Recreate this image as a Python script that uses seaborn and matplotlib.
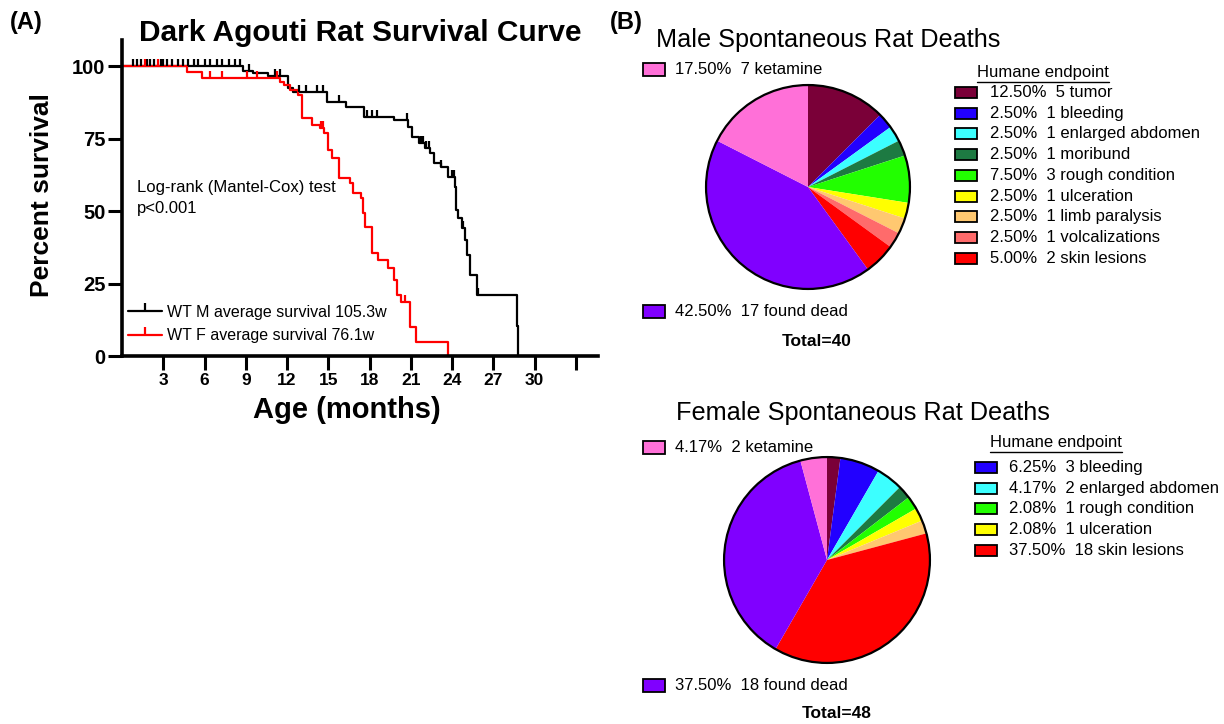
import numpy as np
import pandas as pd
import matplotlib
matplotlib.use('Agg')
import matplotlib.pyplot as plt
import seaborn as sns
from matplotlib.lines import Line2D
from matplotlib.patches import Rectangle, Circle

# ---- survival curve (Kaplan-Meier steps) ----
male_t = [0, 8.8, 9.5, 10.6, 12.05, 12.4, 14.9, 16.3, 17.6, 19.8, 20.8, 21.1, 21.6, 22.0,
          22.4, 22.7, 23.2, 23.7, 24.2, 24.25, 24.3, 24.4, 24.7, 24.9, 25.05, 25.3, 25.8,
          28.7, 28.8]
male_s = [100, 98.4, 97.5, 96.6, 92.4, 91.1, 87.6, 85.9, 82.4, 81.4, 79.0, 75.5, 73.4, 71.7,
          70.0, 66.6, 65.2, 61.7, 58.3, 53.8, 50.3, 47.6, 44.1, 40.0, 34.8, 27.9, 21.0,
          10.5, 0]
male_cens = [0.8, 1.1, 1.4, 1.8, 2.0, 2.3, 2.8, 3.0, 3.3, 3.6, 4.1, 4.4, 4.8, 5.2, 5.5, 6.0,
             6.4, 6.9, 7.3, 7.8, 8.2, 8.6, 9.2, 11.1, 11.5, 12.9, 13.4, 14.2, 14.6, 15.8,
             17.8, 18.2, 18.5, 20.7, 21.7, 21.9, 22.1, 22.3, 23.2, 24.0, 24.15, 24.8, 25.9]

female_t = [0, 4.7, 5.8, 11.5, 11.8, 12.2, 12.8, 13.1, 13.8, 14.4, 14.7, 15.0, 15.25, 15.8,
            16.6, 16.8, 17.4, 17.5, 17.65, 18.15, 18.6, 19.3, 19.8, 20.0, 20.3, 20.9, 21.4,
            23.7]
female_s = [100, 97.9, 95.8, 94.6, 93.4, 91.7, 90.0, 82.0, 79.7, 78.6, 76.9, 71.0, 68.3, 61.4,
            59.7, 56.2, 54.5, 49.3, 44.5, 35.5, 33.1, 30.3, 26.2, 21.0, 18.6, 10.0, 4.8, 0]
female_cens = [1.7, 2.6, 6.4, 7.3, 9.1, 9.8, 11.3, 14.5, 14.6, 20.6]

group_labels = ['WT M average survival 105.3w', 'WT F average survival 76.1w']
group_colors = ['black', '#ff0000']
x_ticks = [3, 6, 9, 12, 15, 18, 21, 24, 27, 30, 33]
x_tick_labels = ['3', '6', '9', '12', '15', '18', '21', '24', '27', '30', '']
y_ticks = [0, 25, 50, 75, 100]

# ---- pie charts ----
causes = ['tumor', 'bleeding', 'enlarged abdomen', 'moribund', 'rough condition', 'ulceration',
          'limb paralysis', 'volcalizations', 'skin lesions', 'found dead', 'ketamine']
cause_colors = ['#7a0038', '#2200ff', '#3cffff', '#1d7a42', '#22ff00', '#ffff00',
                '#ffc870', '#ff6b6b', '#ff0000', '#8000ff', '#ff70d8']
male_n = [5, 1, 1, 1, 3, 1, 1, 1, 2, 17, 7]
female_n = [1, 3, 2, 1, 1, 1, 1, 0, 18, 18, 2]
male_listed = ['tumor', 'bleeding', 'enlarged abdomen', 'moribund', 'rough condition',
               'ulceration', 'limb paralysis', 'volcalizations', 'skin lesions']
female_listed = ['bleeding', 'enlarged abdomen', 'rough condition', 'ulceration', 'skin lesions']

sns.set_style('ticks')
plt.rcParams['font.family'] = ['Liberation Sans', 'DejaVu Sans']
plt.rcParams.update({'text.color': 'black', 'axes.labelcolor': 'black',
                     'xtick.color': 'black', 'ytick.color': 'black',
                     'axes.edgecolor': 'black'})

W, H = 1224, 724
fig = plt.figure(figsize=(W / 100, H / 100), dpi=100)


def rect(x0, y0, x1, y1):
    return [x0 / W, 1 - y1 / H, (x1 - x0) / W, (y1 - y0) / H]


# overlay axes in pixel coordinates for free text
ov = fig.add_axes([0, 0, 1, 1])
ov.set_xlim(0, W)
ov.set_ylim(H, 0)
ov.axis('off')
ov.set_zorder(5)

# ---------------- (A) survival ----------------
ax = fig.add_axes(rect(122, 40, 598, 356))
df = pd.concat([
    pd.DataFrame({'Age': male_t, 'Survival': male_s, 'Group': 'M'}),
    pd.DataFrame({'Age': female_t, 'Survival': female_s, 'Group': 'F'}),
])
sns.lineplot(data=df, x='Age', y='Survival', hue='Group', palette=group_colors,
             estimator=None, sort=False, drawstyle='steps-post', lw=1.6,
             legend=False, ax=ax, clip_on=False)
for t, s, cens, col in [(male_t, male_s, male_cens, group_colors[0]),
                        (female_t, female_s, female_cens, group_colors[1])]:
    idx = np.searchsorted(t, cens, side='right') - 1
    ax.plot(cens, np.array(s)[idx], linestyle='none', marker=2, ms=5, mew=1.6,
            color=col, clip_on=False)

ax.set_xlim(0, 34.6)
ax.set_ylim(0, 109)
ax.set_xticks(x_ticks)
ax.set_xticklabels(x_tick_labels, fontsize=12.5, fontweight='bold')
ax.set_yticks(y_ticks)
ax.set_yticklabels([str(v) for v in y_ticks], fontsize=14.5, fontweight='bold')
ax.tick_params(width=2.2, length=10, direction='out', pad=2)
sns.despine(ax=ax)
for sp in ['left', 'bottom']:
    ax.spines[sp].set_linewidth(2.6)
ax.set_xlabel('')
ax.set_ylabel('')

handles = [Line2D([0], [0], color=c, lw=1.6, marker=2, ms=6, mew=1.6) for c in group_colors]
ax.legend(handles, group_labels, loc='lower left', bbox_to_anchor=(0.0, 0.02),
          frameon=False, fontsize=11.5, handlelength=2.1, handletextpad=0.3,
          labelspacing=0.55, borderaxespad=0)
ax.text(0.0315, 0.5, 'Log-rank (Mantel-Cox) test\np<0.001', transform=ax.transAxes,
        fontsize=12, va='center', ha='left', linespacing=1.45)

ov.text(10, 22, '(A)', fontsize=17, fontweight='bold', va='center')
ov.text(360, 33, 'Dark Agouti Rat Survival Curve', fontsize=21.5, fontweight='bold',
        ha='center', va='center')
ov.text(42, 195, 'Percent survival', fontsize=19, fontweight='bold', rotation=90,
        ha='center', va='center')
ov.text(347, 410, 'Age (months)', fontsize=21, fontweight='bold', ha='center', va='center')

# ---------------- (B) pies ----------------
ov.text(610, 22, '(B)', fontsize=17, fontweight='bold', va='center')


def draw_pie(counts, cx, cy, r, title, tx, ty, ket_y, dead_y, tot_x, tot_y,
             listed, lx_box, lx_text, l_y0, l_dy, head_x, head_y):
    total = sum(counts)
    pax = fig.add_axes(rect(cx - r, cy - r, cx + r, cy + r))
    vals = [c for c in counts if c > 0]
    cols = [cause_colors[i] for i, c in enumerate(counts) if c > 0]
    pax.pie(vals, colors=cols, startangle=90, counterclock=False,
            wedgeprops=dict(linewidth=0, antialiased=True))
    pax.add_patch(Circle((0, 0), 1, fill=False, lw=1.6, ec='black'))
    pax.set_xlim(-1.02, 1.02)
    pax.set_ylim(-1.02, 1.02)
    pax.set_aspect('equal')
    pax.axis('off')

    ov.text(tx, ty, title, fontsize=18.2, ha='left', va='center')

    def label(name):
        i = causes.index(name)
        return f'{counts[i] / total * 100:.2f}%  {counts[i]} {name}', cause_colors[i]

    for name, yy in [('ketamine', ket_y), ('found dead', dead_y)]:
        txt, col = label(name)
        ov.add_patch(Rectangle((643, yy - 6.5), 22, 13, fc=col, ec='black', lw=1.3))
        ov.text(675, yy, txt, fontsize=12, va='center', ha='left')
    ov.text(tot_x, tot_y, f'Total={total}', fontsize=12.5, fontweight='bold',
            ha='center', va='center')

    hd = ov.text(head_x, head_y, 'Humane endpoint', fontsize=12, ha='left', va='center')
    fig.canvas.draw()
    bb = hd.get_window_extent().transformed(ov.transData.inverted())
    ov.plot([bb.x0, bb.x1], [head_y + 8.5, head_y + 8.5], color='black', lw=1)
    for k, name in enumerate(listed):
        txt, col = label(name)
        yy = l_y0 + k * l_dy
        ov.add_patch(Rectangle((lx_box, yy - 5.5), 22, 11, fc=col, ec='black', lw=1.3))
        ov.text(lx_text, yy, txt, fontsize=12, va='center', ha='left')


draw_pie(male_n, 808, 187, 104, 'Male Spontaneous Rat Deaths', 656, 40, 69, 311, 817, 341,
         male_listed, 955, 990, 92.3, 20.75, 977, 73)
draw_pie(female_n, 827, 560, 105, 'Female Spontaneous Rat Deaths', 676, 413, 447, 685, 837, 714,
         female_listed, 975, 1009, 467.3, 20.7, 990, 443)

fig.savefig('out.png', dpi=100)
